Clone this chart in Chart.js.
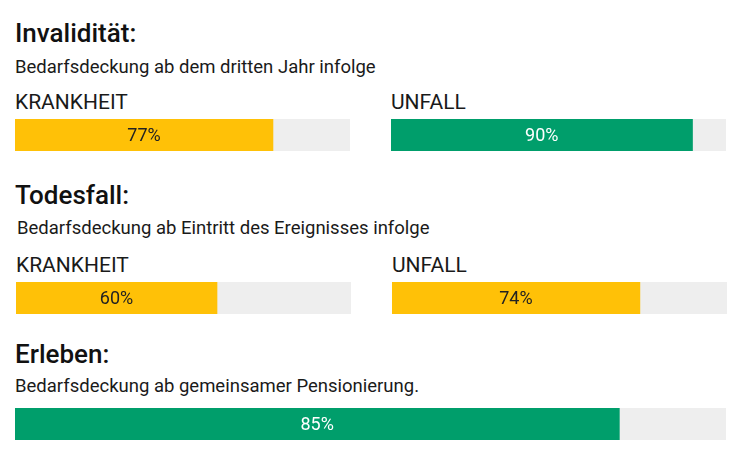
<!DOCTYPE html>
<html>
<head>
<meta charset="utf-8">
<script src="https://cdn.jsdelivr.net/npm/chart.js@4"></script>
<style>
  body { margin: 0; background: #fff; width: 745px; height: 460px; position: relative; overflow: hidden; font-family: Roboto, "Noto Sans", sans-serif; color: #111; }
  .t { position: absolute; white-space: nowrap; line-height: 1; }
  .h { font-size: 26px; font-weight: 500; }
  .s { font-size: 18.5px; color: #1a1a1a; }
  .c { font-size: 21px; color: #1a1a1a; }
  .bar { position: absolute; height: 32px; }
</style>
</head>
<body>
<div id="root"></div>
<script>
const sections = ["Invalidität:", "Todesfall:", "Erleben:"];
const subtitles = [
  "Bedarfsdeckung ab dem dritten Jahr infolge",
  "Bedarfsdeckung ab Eintritt des Ereignisses infolge",
  "Bedarfsdeckung ab gemeinsamer Pensionierung."
];
const categories = ["KRANKHEIT", "UNFALL"];
const invaliditaet = [77, 90];
const todesfall = [60, 74];
const erleben = [85];
const maxValue = 100;

const YELLOW = "#FFC107";
const GREEN = "#009E6B";
const TRACK = "#EEEEEE";

const root = document.getElementById("root");

function text(cls, str, x, y) {
  const d = document.createElement("div");
  d.className = "t " + cls;
  d.textContent = str;
  d.style.left = x + "px";
  d.style.top = y + "px";
  root.appendChild(d);
}

// label in the middle of the filled part
const centerLabel = {
  id: "centerLabel",
  afterDatasetsDraw(chart) {
    const ctx = chart.ctx;
    const meta = chart.getDatasetMeta(1);
    meta.data.forEach((bar, i) => {
      const v = chart.data.datasets[1].data[i];
      const fg = chart.data.datasets[1].textColor;
      ctx.save();
      ctx.fillStyle = fg;
      ctx.font = "18px Roboto, sans-serif";
      ctx.textAlign = "center";
      ctx.textBaseline = "middle";
      ctx.fillText(v + "%", (bar.x + bar.base) / 2, bar.y + 1);
      ctx.restore();
    });
  }
};

function bar(value, color, textColor, x, y, w) {
  const box = document.createElement("div");
  box.className = "bar";
  box.style.left = x + "px";
  box.style.top = y + "px";
  box.style.width = w + "px";
  const cv = document.createElement("canvas");
  box.appendChild(cv);
  root.appendChild(box);
  new Chart(cv.getContext("2d"), {
    type: "bar",
    data: {
      labels: [""],
      datasets: [
        { data: [maxValue], backgroundColor: TRACK, grouped: false, order: 2 },
        { data: [value], backgroundColor: color, textColor: textColor, grouped: false, order: 1 }
      ]
    },
    options: {
      indexAxis: "y",
      responsive: true,
      maintainAspectRatio: false,
      animation: false,
      barPercentage: 1,
      categoryPercentage: 1,
      layout: { padding: 0 },
      plugins: { legend: { display: false }, tooltip: { enabled: false } },
      scales: {
        x: { display: false, min: 0, max: maxValue },
        y: { display: false }
      }
    },
    plugins: [centerLabel]
  });
}

// Invalidität
text("h", sections[0], 15, 20);
text("s", subtitles[0], 15, 58);
text("c", categories[0], 15, 92);
text("c", categories[1], 391, 92);
bar(invaliditaet[0], YELLOW, "#222", 15, 119, 335);
bar(invaliditaet[1], GREEN, "#fff", 391, 119, 335);

// Todesfall
text("h", sections[1], 15, 182);
text("s", subtitles[1], 17, 219);
text("c", categories[0], 16, 255);
text("c", categories[1], 392, 255);
bar(todesfall[0], YELLOW, "#222", 16, 282, 335);
bar(todesfall[1], YELLOW, "#222", 392, 282, 335);

// Erleben
text("h", sections[2], 15, 341);
text("s", subtitles[2], 15, 377);
bar(erleben[0], GREEN, "#fff", 15, 408, 711);
</script>
</body>
</html>
